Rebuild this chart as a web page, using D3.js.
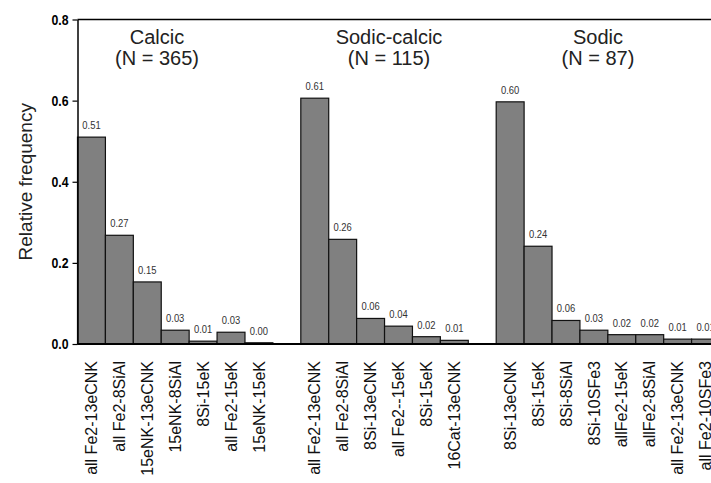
<!DOCTYPE html>
<html>
<head>
<meta charset="utf-8">
<script src="https://cdn.jsdelivr.net/npm/d3@7"></script>
<style>
  html, body { margin: 0; padding: 0; background: #fff; }
  svg { display: block; }
</style>
</head>
<body>
<div id="chart"></div>
<script>
// ---- data ----
const groupTitles = ["Calcic", "Sodic-calcic", "Sodic"];
const groupN = [365, 115, 87];

const calcicLabels = ["all Fe2-13eCNK", "all Fe2-8SiAl", "15eNK-13eCNK", "15eNK-8SiAl", "8Si-15eK", "all Fe2-15eK", "15eNK-15eK"];
const calcicValues = [0.51, 0.268, 0.153, 0.034, 0.007, 0.029, 0.003];

const sodicCalcicLabels = ["all Fe2-13eCNK", "all Fe2-8SiAl", "8Si-13eCNK", "all Fe2--15eK", "8Si-15eK", "16Cat-13eCNK"];
const sodicCalcicValues = [0.606, 0.258, 0.063, 0.044, 0.018, 0.009];

const sodicLabels = ["8Si-13eCNK", "8Si-15eK", "8Si-8SiAl", "8Si-10SFe3", "allFe2-15eK", "allFe2-8SiAl", "all Fe2-13eCNK", "all Fe2-10SFe3"];
const sodicValues = [0.597, 0.241, 0.058, 0.034, 0.023, 0.023, 0.012, 0.012];

const yTicks = [0.0, 0.2, 0.4, 0.6, 0.8];

// ---- layout ----
const W = 711, H = 483;
const plotLeft = 77.5, plotRight = 719.5, plotTop = 19.5, plotBottom = 344;
const titleX = [157, 389, 598];
const narrow = 0.82;

// build slot list (one empty slot between groups)
const groups = [
  { labels: calcicLabels, values: calcicValues },
  { labels: sodicCalcicLabels, values: sodicCalcicValues },
  { labels: sodicLabels, values: sodicValues }
];
const bars = [];
let slot = 0;
groups.forEach((g, gi) => {
  g.labels.forEach((lab, i) => {
    bars.push({ slot: slot, label: lab, value: g.values[i], group: gi });
    slot++;
  });
  if (gi < groups.length - 1) slot++;
});
const nSlots = slot;

const x = d3.scaleBand().domain(d3.range(nSlots)).range([plotLeft, plotRight]).padding(0);
const y = d3.scaleLinear().domain([0, 0.8]).range([plotBottom, plotTop]);

const svg = d3.select("#chart").append("svg")
  .attr("width", W).attr("height", H);

// top frame line
svg.append("line")
  .attr("x1", plotLeft).attr("x2", W)
  .attr("y1", y(0.8)).attr("y2", y(0.8))
  .attr("stroke", "#000").attr("stroke-width", 1.5);

// bars
svg.append("g").selectAll("rect").data(bars).join("rect")
  .attr("x", d => x(d.slot))
  .attr("y", d => y(d.value))
  .attr("width", x.bandwidth())
  .attr("height", d => y(0) - y(d.value))
  .attr("fill", "#808080")
  .attr("stroke", "#111")
  .attr("stroke-width", 1.2);

// value labels (condensed)
svg.append("g").selectAll("text").data(bars).join("text")
  .attr("transform", d => `translate(${x(d.slot) + x.bandwidth() / 2},${y(d.value) - 8}) scale(${narrow},1)`)
  .attr("text-anchor", "middle")
  .attr("font-family", "'Liberation Sans', Arial, sans-serif")
  .attr("font-size", 11.5)
  .attr("fill", "#333")
  .text(d => d3.format(".2f")(d.value));

// y axis
const yAxis = d3.axisLeft(y).tickValues(yTicks).tickFormat(d3.format(".1f"))
  .tickSize(5).tickSizeOuter(0).tickPadding(4);
const gy = svg.append("g").attr("transform", `translate(${plotLeft},0)`).call(yAxis);
gy.select(".domain").attr("stroke", "#000").attr("stroke-width", 1.5);
gy.selectAll(".tick line").attr("stroke", "#000").attr("stroke-width", 1.2);
gy.selectAll(".tick text")
  .attr("x", null)
  .attr("transform", `translate(-9,0) scale(${narrow},1)`)
  .attr("font-family", "'Liberation Sans', Arial, sans-serif")
  .attr("font-weight", "bold")
  .attr("font-size", 15)
  .attr("fill", "#000");

// bottom baseline
svg.append("line")
  .attr("x1", plotLeft).attr("x2", W)
  .attr("y1", y(0)).attr("y2", y(0))
  .attr("stroke", "#000").attr("stroke-width", 2);

// x category labels (rotated)
svg.append("g").selectAll("text").data(bars).join("text")
  .attr("transform", d => `translate(${x(d.slot) + x.bandwidth() / 2},${plotBottom + 17}) rotate(-90)`)
  .attr("text-anchor", "end")
  .attr("dy", "0.35em")
  .attr("font-family", "'Liberation Sans', Arial, sans-serif")
  .attr("font-size", 16)
  .attr("fill", "#111")
  .text(d => d.label);

// group titles
const titles = svg.append("g");
groupTitles.forEach((t, i) => {
  const tx = titles.append("text")
    .attr("x", titleX[i]).attr("y", 44)
    .attr("text-anchor", "middle")
    .attr("font-family", "'Liberation Sans', Arial, sans-serif")
    .attr("font-size", 20)
    .attr("fill", "#222");
  tx.append("tspan").attr("x", titleX[i]).text(t);
  tx.append("tspan").attr("x", titleX[i]).attr("dy", 21).text(`(N = ${groupN[i]})`);
});

// y axis label
svg.append("text")
  .attr("transform", `translate(25,${(plotTop + plotBottom) / 2}) rotate(-90)`)
  .attr("text-anchor", "middle")
  .attr("dy", "0.35em")
  .attr("font-family", "'Liberation Sans', Arial, sans-serif")
  .attr("font-size", 19)
  .attr("fill", "#222")
  .text("Relative frequency");
</script>
</body>
</html>
